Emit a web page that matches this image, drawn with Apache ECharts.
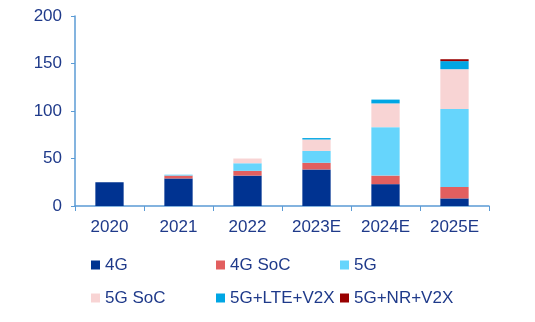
<!DOCTYPE html>
<html><head><meta charset="utf-8">
<script src="https://cdn.jsdelivr.net/npm/echarts@6/dist/echarts.min.js"></script>
<style>html,body{margin:0;padding:0;background:#fff}#c{width:535px;height:322px}</style>
</head><body><div id="c"></div>
<script>
const categories = ['2020','2021','2022','2023E','2024E','2025E'];
const s4G      = [25, 29, 32, 38.5, 23, 8];
const s4GSoC   = [0, 3, 5, 7, 9, 12];
const s5G      = [0, 1, 8, 12.5, 51, 82];
const s5GSoC   = [0, 0, 5, 12, 25, 42];
const s5GLTE   = [0, 0, 0, 1.5, 4, 8.5];
const s5GNR    = [0, 0, 0, 0, 0, 2];
const yTicks = [0, 50, 100, 150, 200];

const names = ['4G','4G SoC','5G','5G SoC','5G+LTE+V2X','5G+NR+V2X'];
const colors = ['#003391','#e25f5f','#66d5fc','#f8d4d4','#00a6e4','#990000'];
const data = [s4G, s4GSoC, s5G, s5GSoC, s5GLTE, s5GNR];
const txt = '#1f3a8a';

const chart = echarts.init(document.getElementById('c'));
const legendCol = (items, left) => ({
  orient: 'vertical', left: left, top: 256, padding: 0, itemWidth: 9, itemHeight: 9, itemGap: 15,
  icon: 'rect', data: items,
  textStyle: {color: txt, fontSize: 17, fontFamily: 'Liberation Sans, Arial', lineHeight: 18}
});
chart.setOption({
  animation: false,
  color: colors,
  grid: {left: 75, right: 46, top: 16, bottom: 116},
  legend: [
    legendCol(['4G','5G SoC'], 91),
    legendCol(['4G SoC','5G+LTE+V2X'], 216),
    legendCol(['5G','5G+NR+V2X'], 340)
  ],
  xAxis: {
    type: 'category', data: categories,
    axisLine: {lineStyle: {color: '#5b9bd5', width: 1.5}},
    axisTick: {show: true, length: 5, lineStyle: {color: '#5b9bd5'}},
    axisLabel: {color: txt, fontSize: 17, fontFamily: 'Liberation Sans, Arial', margin: 13}
  },
  yAxis: {
    type: 'value', min: yTicks[0], max: yTicks[yTicks.length-1], interval: 50,
    axisLine: {show: true, lineStyle: {color: '#5b9bd5', width: 1.5}},
    axisTick: {show: true, length: 4, lineStyle: {color: '#5b9bd5'}},
    splitLine: {show: false},
    axisLabel: {color: txt, fontSize: 17, fontFamily: 'Liberation Sans, Arial', margin: 13}
  },
  series: names.map((n, i) => ({
    name: n, type: 'bar', stack: 'a', barWidth: '41%',
    data: data[i],
    itemStyle: {color: colors[i]}
  }))
});
</script></body></html>
